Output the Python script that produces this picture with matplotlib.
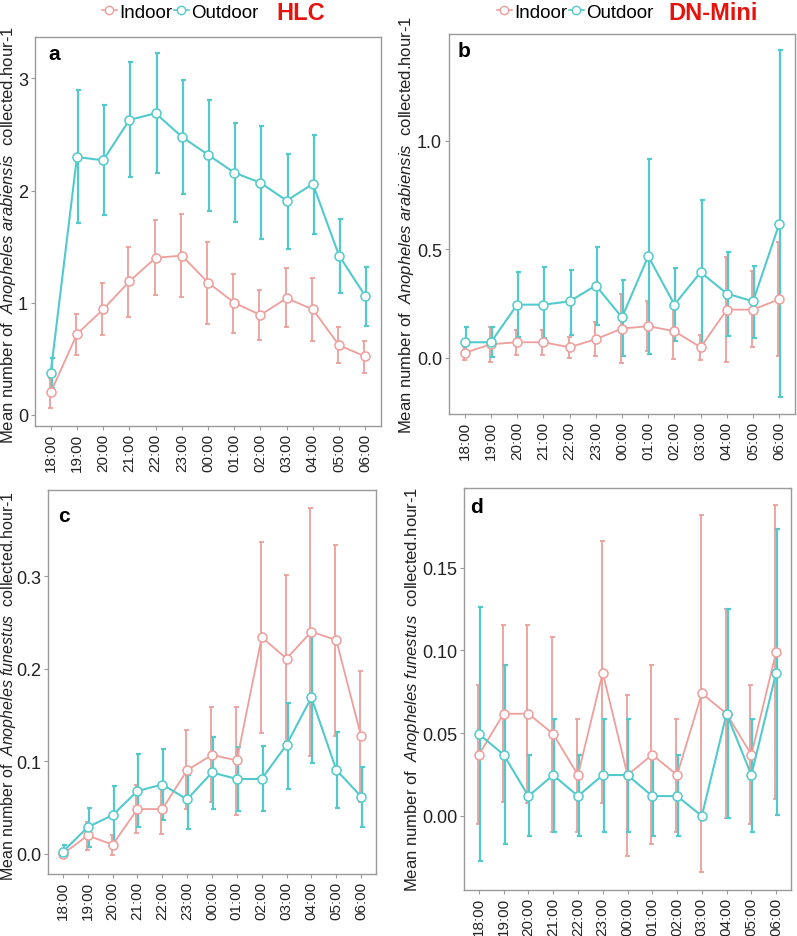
import matplotlib
matplotlib.use("Agg")
import matplotlib.pyplot as plt
from matplotlib.lines import Line2D
import numpy as np

plt.rcParams['font.family'] = ['Liberation Sans', 'DejaVu Sans']
plt.rcParams['mathtext.fontset'] = 'custom'
plt.rcParams['mathtext.rm'] = 'Liberation Sans'
plt.rcParams['mathtext.it'] = 'Liberation Sans:italic'

hours = ["18:00", "19:00", "20:00", "21:00", "22:00", "23:00", "00:00",
         "01:00", "02:00", "03:00", "04:00", "05:00", "06:00"]

# Panel a: HLC, An. arabiensis
a_out = [0.375, 2.30, 2.27, 2.63, 2.69, 2.48, 2.32, 2.16, 2.07, 1.91, 2.06, 1.42, 1.06]
a_out_hi = [0.51, 2.90, 2.76, 3.15, 3.23, 2.99, 2.81, 2.60, 2.58, 2.33, 2.50, 1.75, 1.32]
a_out_lo = [0.24, 1.71, 1.78, 2.12, 2.16, 1.97, 1.82, 1.72, 1.57, 1.48, 1.61, 1.09, 0.79]
a_in = [0.20, 0.72, 0.94, 1.19, 1.40, 1.42, 1.18, 1.00, 0.89, 1.04, 0.94, 0.62, 0.52]
a_in_hi = [0.33, 0.90, 1.18, 1.50, 1.74, 1.79, 1.54, 1.26, 1.11, 1.31, 1.22, 0.78, 0.66]
a_in_lo = [0.06, 0.53, 0.71, 0.87, 1.07, 1.05, 0.81, 0.73, 0.67, 0.78, 0.66, 0.46, 0.37]

# Panel b: DN-Mini, An. arabiensis
b_out = [0.072, 0.072, 0.245, 0.245, 0.26, 0.333, 0.186, 0.468, 0.245, 0.394, 0.296, 0.26, 0.617]
b_out_hi = [0.14, 0.14, 0.396, 0.417, 0.406, 0.512, 0.357, 0.914, 0.414, 0.725, 0.488, 0.423, 1.415]
b_out_lo = [0.005, 0.005, 0.095, 0.092, 0.107, 0.153, 0.009, 0.02, 0.077, 0.058, 0.10, 0.092, -0.181]
b_in = [0.023, 0.063, 0.072, 0.072, 0.049, 0.086, 0.135, 0.146, 0.123, 0.049, 0.222, 0.222, 0.27]
b_in_hi = [0.049, 0.14, 0.13, 0.13, 0.097, 0.163, 0.293, 0.264, 0.23, 0.106, 0.463, 0.40, 0.534]
b_in_lo = [-0.01, -0.021, 0.015, 0.015, 0.0, 0.008, -0.023, 0.032, -0.003, -0.011, -0.021, 0.048, 0.008]

# Panel c: HLC, An. funestus
c_out = [0.0025, 0.029, 0.042, 0.068, 0.075, 0.059, 0.088, 0.081, 0.081, 0.118, 0.169, 0.091, 0.062]
c_out_hi = [0.01, 0.050, 0.073, 0.108, 0.113, 0.085, 0.126, 0.116, 0.117, 0.163, 0.237, 0.132, 0.094]
c_out_lo = [0.0, 0.0075, 0.010, 0.029, 0.037, 0.027, 0.049, 0.046, 0.046, 0.070, 0.098, 0.050, 0.029]
c_in = [0.0, 0.020, 0.010, 0.0485, 0.0485, 0.0905, 0.107, 0.101, 0.234, 0.211, 0.240, 0.231, 0.127]
c_in_hi = [0.0, 0.035, 0.0205, 0.0745, 0.075, 0.134, 0.159, 0.159, 0.337, 0.301, 0.374, 0.334, 0.198]
c_in_lo = [0.0, 0.004, -0.001, 0.023, 0.022, 0.0485, 0.056, 0.042, 0.131, 0.121, 0.106, 0.1275, 0.0557]

# Panel d: DN-Mini, An. funestus
d_out = [0.0495, 0.037, 0.012, 0.0247, 0.012, 0.0247, 0.0247, 0.012, 0.012, 0.0, 0.0617, 0.0247, 0.0865]
d_out_hi = [0.126, 0.091, 0.0368, 0.0586, 0.0368, 0.0586, 0.0586, 0.0368, 0.0368, 0.0, 0.125, 0.0586, 0.173]
d_out_lo = [-0.027, -0.017, -0.012, -0.0095, -0.012, -0.0095, -0.0095, -0.012, -0.012, 0.0, -0.0014, -0.0095, 0.0004]
d_in = [0.037, 0.0617, 0.0617, 0.0495, 0.0247, 0.0865, 0.0247, 0.037, 0.0247, 0.074, 0.0617, 0.037, 0.099]
d_in_hi = [0.0788, 0.115, 0.115, 0.108, 0.0586, 0.166, 0.073, 0.091, 0.0586, 0.182, 0.125, 0.0788, 0.188]
d_in_lo = [-0.0046, 0.0087, 0.008, -0.0095, -0.0095, 0.008, -0.024, -0.017, -0.0095, -0.034, -0.0014, -0.0046, 0.010]

C_IN = '#EE9E9B'
C_OUT = '#52CACB'

W, H = 797, 937
fig = plt.figure(figsize=(W / 100, H / 100), dpi=100)

def rect(l, r, t, b):
    return [l / W, 1 - b / H, (r - l) / W, (b - t) / H]

panels = [
    dict(rect=rect(35, 381, 38, 427), ylim=(-0.1, 3.37), yt=[0, 1, 2, 3], yfmt='{:.0f}',
         data=(a_in, a_in_lo, a_in_hi, a_out, a_out_lo, a_out_hi), letter='a', lpos=(0.038, 0.943),
         sp='arabiensis', labx=9, laby=235, lfs=12),
    dict(rect=rect(449, 795, 35, 415), ylim=(-0.258, 1.49), yt=[0.0, 0.5, 1.0], yfmt='{:.1f}',
         data=(b_in, b_in_lo, b_in_hi, b_out, b_out_lo, b_out_hi), letter='b', lpos=(0.026, 0.942),
         sp='arabiensis', labx=407, laby=225, lfs=12),
    dict(rect=rect(48, 376, 491, 875), ylim=(-0.0216, 0.393), yt=[0.0, 0.1, 0.2, 0.3], yfmt='{:.1f}',
         data=(c_in, c_in_lo, c_in_hi, c_out, c_out_lo, c_out_hi), letter='c', lpos=(0.03, 0.919),
         sp='funestus', labx=8.8, laby=686, lfs=11.5),
    dict(rect=rect(464, 791, 489, 891), ylim=(-0.0447, 0.198), yt=[0.0, 0.05, 0.10, 0.15], yfmt='{:.2f}',
         data=(d_in, d_in_lo, d_in_hi, d_out, d_out_lo, d_out_hi), letter='d', lpos=(0.02, 0.940),
         sp='funestus', labx=412, laby=690, lfs=12),
]

x = np.arange(len(hours))
dodge = 0.04
axes = []
for p in panels:
    ax = fig.add_axes(p['rect'])
    axes.append(ax)
    yin, yinl, yinh, yout, youtl, youth = [np.array(v) for v in p['data']]
    ax.errorbar(x - dodge, yin, yerr=[yin - yinl, yinh - yin], fmt='none', ecolor=C_IN,
                elinewidth=1.3, capsize=1.8, capthick=1.3, zorder=2)
    ax.errorbar(x + dodge, yout, yerr=[yout - youtl, youth - yout], fmt='none', ecolor=C_OUT,
                elinewidth=1.6, capsize=1.8, capthick=1.6, zorder=2)
    ax.plot(x, yin, '-', color=C_IN, lw=1.3, zorder=3, marker='o', mfc='white', mec=C_IN,
            ms=6.5, mew=1.1)
    ax.plot(x, yout, '-', color=C_OUT, lw=1.5, zorder=4, marker='o', mfc='white', mec=C_OUT,
            ms=6.5, mew=1.1)
    ax.set_xlim(-0.6, len(hours) - 0.4)
    ax.set_ylim(*p['ylim'])
    ax.set_xticks(x)
    ax.set_xticklabels(hours, rotation=90, fontsize=11, color='#222222')
    ax.set_yticks(p['yt'])
    ax.set_yticklabels([p['yfmt'].format(v) for v in p['yt']], fontsize=13, color='#222222')
    for s in ax.spines.values():
        s.set_color('#9a9a9a')
        s.set_linewidth(1.0)
    ax.tick_params(axis='both', color='#9a9a9a', length=3, width=0.8, pad=2)
    ax.text(p['lpos'][0], p['lpos'][1], p['letter'], transform=ax.transAxes, fontsize=15,
            fontweight='bold', va='baseline', ha='left')
    sp = p['sp']
    fig.text(p['labx'] / W, 1 - p['laby'] / H,
             r"Mean number of  $\it{Anopheles\ " + sp + r"}$  collected.hour-1",
             rotation=90, ha='center', va='center', fontsize=p['lfs'], color='#222222')

handles = [Line2D([], [], color=C_IN, marker='o', mfc='white', mec=C_IN, ms=6, lw=1.2),
           Line2D([], [], color=C_OUT, marker='o', mfc='white', mec=C_OUT, ms=6, lw=1.2)]
for xc, title, tx in [(180 / W, 'HLC', 301 / W), (575 / W, 'DN-Mini', 713 / W)]:
    fig.legend(handles, ['Indoor', 'Outdoor'], loc='center', bbox_to_anchor=(xc, 1 - 13 / H),
               ncol=2, frameon=False, fontsize=13.5, handlelength=0.8, handletextpad=0.1,
               columnspacing=0.1, borderpad=0, borderaxespad=0)
    fig.text(tx, 1 - 13 / H, title, color='#E8120C', fontsize=17, fontweight='bold',
             ha='center', va='center')

fig.savefig('out.png', dpi=100)
